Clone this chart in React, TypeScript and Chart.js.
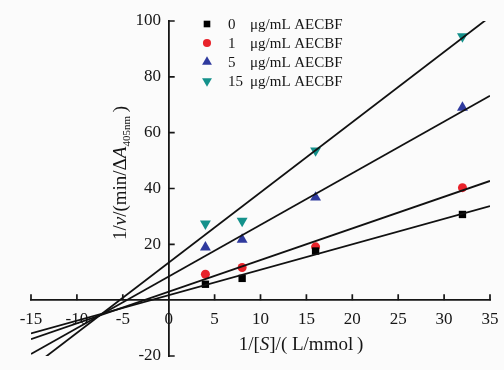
import React, { useEffect, useRef } from 'react';
import { Chart, registerables } from 'chart.js';
import { drawPoint } from 'chart.js/helpers';
Chart.register(...registerables);

// ---- data ----
const substrateX = [4, 8, 16, 32];
const concLabels = ['0', '1', '5', '15'];
const unitLabel = 'μg/mL AECBF';
const rate0 = [5.7, 7.8, 17.6, 30.7];
const rate1 = [9.3, 11.7, 19.1, 40.3];
const rate5 = [18.9, 21.7, 36.8, 69.0];
const rate15 = [27.4, 28.4, 53.6, 94.5];
// fitted lines: y values at the two ends of the x range
const fitX = [-15, 35];
const fit0 = [-11.9, 33.7];
const fit1 = [-14.0, 42.7];
const fit5 = [-19.3, 73.2];
const fit15 = [-24.3, 101.5];
const xMin = -15, xMax = 35, xStep = 5;
const yMin = -20, yMax = 100, yStep = 20;

const seriesValues = [rate0, rate1, rate5, rate15];
const fitValues = [fit0, fit1, fit5, fit15];

// ---- styles ----
const colors = ['#000000', '#e8232b', '#2f3a9e', '#14918b'];
const pointStyles = ['rect', 'circle', 'triangle', 'triangle'];
const rotations = [0, 0, 0, 180];
const radii = [5.2, 4.5, 6.3, 6.3];
const SERIF = '"Liberation Serif", "Times New Roman", serif';
const INK = '#161616';

type Seg = { t: string; it?: boolean; sub?: boolean };
const xTitle: Seg[] = [{ t: '1/[' }, { t: 'S', it: true }, { t: ']/( L/mmol\u2009)' }];
const yTitle: Seg[] = [
  { t: '1/' }, { t: 'v', it: true }, { t: '/(min/Δ' }, { t: 'A', it: true },
  { t: '405nm', sub: true }, { t: '\u2009)' },
];

function segFont(s: Seg, size: number) {
  const sz = s.sub ? Math.round(size * 0.6) : size;
  return `${s.it ? 'italic ' : ''}${sz}px ${SERIF}`;
}
function drawRich(ctx: CanvasRenderingContext2D, segs: Seg[], cx: number, cy: number, size: number) {
  let total = 0;
  const widths = segs.map((s) => {
    ctx.font = segFont(s, size);
    const w = ctx.measureText(s.t).width;
    total += w;
    return w;
  });
  let x = cx - total / 2;
  ctx.textAlign = 'left';
  ctx.textBaseline = 'middle';
  segs.forEach((s, i) => {
    ctx.font = segFont(s, size);
    ctx.fillText(s.t, x, cy + (s.sub ? size * 0.3 : 0));
    x += widths[i];
  });
}

const decorPlugin = {
  id: 'decor',
  beforeDraw(chart: any) {
    const ctx = chart.ctx;
    ctx.save();
    ctx.fillStyle = '#fbfbfb';
    ctx.fillRect(0, 0, chart.width, chart.height);
    ctx.restore();
  },
  afterDraw(chart: any) {
    const ctx: CanvasRenderingContext2D = chart.ctx;
    const xs = chart.scales.x;
    const ys = chart.scales.y;
    const x0 = xs.getPixelForValue(0);
    const y0 = ys.getPixelForValue(0);
    ctx.save();
    // inward tick marks
    ctx.strokeStyle = INK;
    ctx.lineWidth = 1.7;
    ctx.beginPath();
    xs.ticks.forEach((t: any) => {
      if (t.value === 0) return;
      const px = xs.getPixelForValue(t.value);
      ctx.moveTo(px, y0);
      ctx.lineTo(px, y0 - 6);
    });
    ys.ticks.forEach((t: any) => {
      if (t.value === 0) return;
      const py = ys.getPixelForValue(t.value);
      ctx.moveTo(x0, py);
      ctx.lineTo(x0 + 6, py);
    });
    ctx.stroke();

    // axis titles
    ctx.fillStyle = INK;
    drawRich(ctx, xTitle, 301, 345, 19);
    ctx.save();
    ctx.translate(121, 173);
    ctx.rotate(-Math.PI / 2);
    drawRich(ctx, yTitle, 0, 0, 19);
    ctx.restore();

    // legend
    concLabels.forEach((lab, i) => {
      const ly = 24 + i * 19;
      ctx.fillStyle = colors[i];
      ctx.strokeStyle = colors[i];
      drawPoint(ctx, {
        pointStyle: pointStyles[i] as any,
        rotation: rotations[i],
        radius: radii[i] * 0.9,
        borderWidth: 0,
      } as any, 207, ly);
      ctx.fillStyle = INK;
      ctx.font = `15px ${SERIF}`;
      ctx.textAlign = 'left';
      ctx.textBaseline = 'middle';
      ctx.fillText(lab, 228, ly + 1);
      ctx.fillText(unitLabel, 250, ly + 1);
    });
    ctx.restore();
  },
};

export default function App() {
  const ref = useRef<HTMLCanvasElement>(null);
  useEffect(() => {
    const canvas = ref.current!;
    const lineSets = fitValues.map((f, i) => ({
      type: 'line' as const,
      label: `fit ${concLabels[i]}`,
      data: fitX.map((x, k) => ({ x, y: f[k] })),
      borderColor: '#111111',
      borderWidth: 1.8,
      pointRadius: 0,
      fill: false,
      order: 0,
    }));
    const pointSets = seriesValues.map((vals, i) => ({
      type: 'scatter' as const,
      label: `${concLabels[i]} ${unitLabel}`,
      data: substrateX.map((x, k) => ({ x, y: vals[k] })),
      backgroundColor: colors[i],
      borderColor: colors[i],
      borderWidth: 0,
      pointStyle: pointStyles[i],
      rotation: rotations[i],
      pointRadius: radii[i],
      showLine: false,
      order: 1,
    }));
    const chart = new Chart(canvas, {
      type: 'scatter',
      data: { datasets: [...lineSets, ...pointSets] as any },
      options: {
        animation: false,
        responsive: false,
        devicePixelRatio: 1,
        layout: { padding: { left: 31, right: 14, top: 21, bottom: 14 } },
        plugins: { legend: { display: false }, tooltip: { enabled: false } },
        scales: {
          x: {
            type: 'linear',
            min: xMin,
            max: xMax,
            position: { y: 0 } as any,
            grid: { display: false, drawTicks: true, tickLength: 9 },
            border: { display: true, color: INK, width: 1.8 },
            ticks: {
              stepSize: xStep,
              color: INK,
              padding: 0,
              font: { family: SERIF, size: 17 },
              maxRotation: 0,
              autoSkip: false,
            },
          },
          y: {
            type: 'linear',
            min: yMin,
            max: yMax,
            position: { x: 0 } as any,
            grid: { display: false, drawTicks: false },
            border: { display: true, color: INK, width: 1.8 },
            ticks: {
              stepSize: yStep,
              color: INK,
              padding: 0,
              font: { family: SERIF, size: 17 },
              callback: (v: any) => (v === 0 ? '' : `${v} \u2009`),
            },
          },
        },
      },
      plugins: [decorPlugin],
    });
    return () => chart.destroy();
  }, []);
  return (
    <div style={{ position: 'fixed', left: 0, top: 0, width: 504, height: 370, background: '#fbfbfb' }}>
      <canvas ref={ref} width={504} height={370} />
    </div>
  );
}
